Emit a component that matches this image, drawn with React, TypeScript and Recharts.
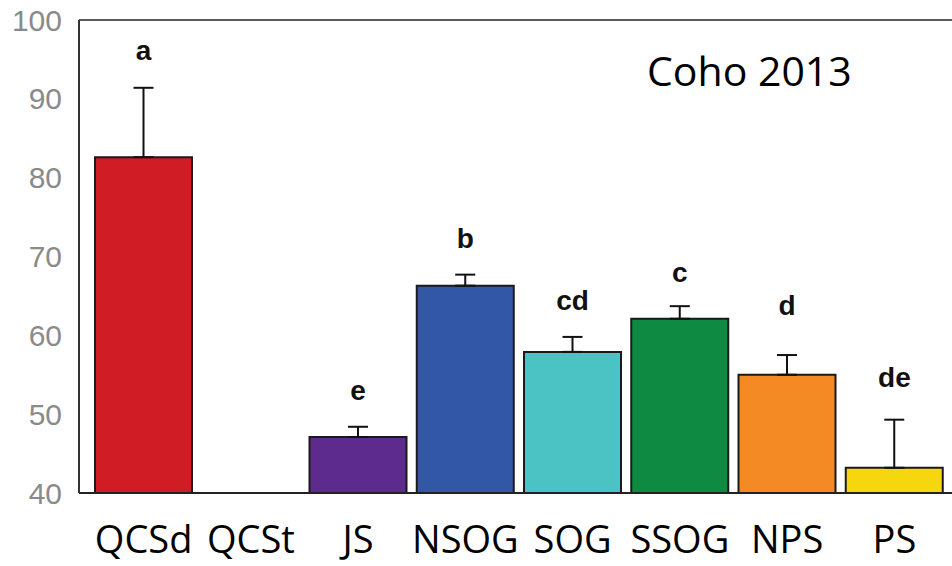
import {
  ComposedChart,
  Bar,
  Cell,
  ErrorBar,
  Line,
  LabelList,
  XAxis,
  YAxis,
  ReferenceLine,
} from 'recharts';

const sites = ['QCSd', 'QCSt', 'JS', 'NSOG', 'SOG', 'SSOG', 'NPS', 'PS'];
const means = [82.6, null, 47.1, 66.3, 57.9, 62.1, 55.0, 43.2];
const errUp = [8.8, null, 1.3, 1.4, 1.9, 1.6, 2.5, 6.1];
const letters = ['a', '', 'e', 'b', 'cd', 'c', 'd', 'de'];
const letterPos = [94.9, null, 51.8, 71.1, 63.2, 66.8, 62.6, 53.5];
const colors = ['#d01d25', '#ffffff', '#5d2a8e', '#3357a7', '#4bc3c5', '#0e8a43', '#f48a23', '#f6d70f'];
const yTicks = [40, 50, 60, 70, 80, 90, 100];

const data = sites.map((site, i) => ({
  site,
  mean: means[i],
  err: errUp[i] == null ? null : [0, errUp[i]],
  letter: letters[i],
  letterPos: letterPos[i],
}));

const SiteTick = ({ x, y, payload }: any) => (
  <text
    x={x}
    y={y + 60}
    textAnchor="middle"
    fontFamily="'Open Sans', sans-serif"
    fontSize={38}
    fill="#000"
  >
    {payload.value}
  </text>
);

const LetterLabel = ({ x, y, value }: any) =>
  value ? (
    <text
      x={x}
      y={y}
      textAnchor="middle"
      fontFamily="'Liberation Sans', Arial, sans-serif"
      fontWeight="bold"
      fontSize={28}
      fill="#111"
    >
      {value}
    </text>
  ) : null;

export default function App() {
  return (
    <div style={{ position: 'absolute', left: 0, top: 0, width: 952, height: 566, background: '#fff' }}>
      <ComposedChart width={952} height={566} data={data} margin={{ top: 20, right: 0, left: 0, bottom: 0 }}>
        <XAxis
          dataKey="site"
          height={73}
          tickLine={false}
          tickSize={0}
          tickMargin={0}
          tick={<SiteTick />}
          axisLine={{ stroke: '#222', strokeWidth: 2 }}
          padding={{ left: 11, right: 4 }}
          interval={0}
        />
        <YAxis
          width={79}
          domain={[40, 100]}
          ticks={yTicks}
          allowDataOverflow
          tickLine={false}
          tickSize={14}
          tickMargin={3}
          axisLine={{ stroke: '#333', strokeWidth: 2 }}
          tick={{ fill: '#8a8a8a', fontSize: 30, fontFamily: "'Liberation Sans', Arial, sans-serif" }}
        />
        <ReferenceLine y={100} stroke="#5a5a5a" strokeWidth={2} />
        <Bar dataKey="mean" barSize={97} stroke="#1a1a1a" strokeWidth={2} isAnimationActive={false}>
          {data.map((d, i) => (
            <Cell key={d.site} fill={colors[i]} />
          ))}
          <ErrorBar dataKey="err" width={10} stroke="#111" strokeWidth={2} direction="y" />
        </Bar>
        <Line
          dataKey="letterPos"
          stroke="none"
          dot={false}
          activeDot={false}
          legendType="none"
          isAnimationActive={false}
        >
          <LabelList dataKey="letter" content={<LetterLabel />} />
        </Line>
      </ComposedChart>
      <div
        style={{
          position: 'absolute',
          left: 647,
          top: 50,
          fontFamily: "'Open Sans', sans-serif",
          fontSize: 41,
          lineHeight: 1,
          color: '#000',
          whiteSpace: 'nowrap',
        }}
      >
        Coho 2013
      </div>
    </div>
  );
}
